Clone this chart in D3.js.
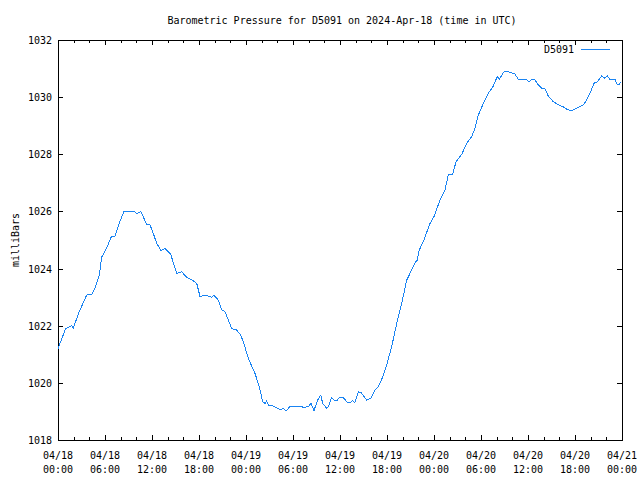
<!DOCTYPE html>
<html>
<head>
<meta charset="utf-8">
<script src="https://cdn.jsdelivr.net/npm/d3@7"></script>
<style>
  html, body { margin: 0; padding: 0; background: #fff; }
  svg { display: block; }
  text { font-family: "DejaVu Sans Mono", "Liberation Mono", monospace; fill: #000; }
</style>
</head>
<body>
<svg id="chart" width="640" height="480"></svg>
<script>
const titleText = "Barometric Pressure for D5091 on 2024-Apr-18 (time in UTC)";
const yLabel = "milliBars";
const seriesName = "D5091";
const startTime = Date.UTC(2024, 3, 18, 0, 0);
// hours since 2024-04-18 00:00 UTC
const hours = [0, 0.98, 1.75, 1.95, 2.72, 3.66, 4.30, 4.72, 5.27, 5.58, 6.29, 6.77, 7.28, 7.81, 8.43, 9.70, 10.12, 10.56,
  11.32, 11.74, 12.17, 12.60, 13.15, 13.66, 14.39, 15.15, 15.79, 16.43, 17.27, 17.71, 18.13, 18.77, 19.62, 19.91,
  20.46, 20.90, 21.32, 22.17, 22.81, 23.32, 23.66, 24.29, 25.15, 25.70, 26.13, 26.43, 26.64, 26.85, 27.49, 28.34,
  28.76, 29.11, 29.62, 30.47, 31.11, 31.31, 31.95, 32.30, 32.68, 33.10, 33.54, 33.79, 34.30, 34.51, 34.94, 35.23,
  35.66, 35.91, 36.42, 36.93, 37.28, 37.62, 37.91, 38.34, 38.68, 39.41, 39.92, 40.47, 40.89, 41.45, 41.96, 42.60,
  43.24, 43.88, 44.52, 45.15, 45.57, 45.87, 46.12, 46.63, 47.49, 48.00, 48.77, 49.40, 49.83, 50.39, 50.81, 51.54,
  52.17, 52.81, 53.23, 53.66, 54.29, 54.93, 55.57, 56.08, 56.34, 56.94, 57.49, 58.34, 58.76, 59.83, 60.13, 60.47,
  60.89, 61.32, 61.75, 62.17, 62.59, 63.23, 63.87, 64.43, 64.94, 65.49, 66.22, 67.06, 67.49, 68.00, 68.46, 68.77,
  69.41, 69.83, 70.12, 70.47, 71.11, 71.40, 71.66, 71.83];
const pressure = [1021.2, 1021.9, 1022.0, 1021.92, 1022.5, 1023.07, 1023.1, 1023.3, 1023.77, 1024.4, 1024.77, 1025.1, 1025.14, 1025.58, 1026.0, 1026.0, 1025.92, 1026.0,
  1025.55, 1025.53, 1025.23, 1024.88, 1024.63, 1024.71, 1024.5, 1023.83, 1023.89, 1023.69, 1023.57, 1023.48, 1023.02, 1023.07, 1023.0, 1023.07,
  1022.9, 1022.55, 1022.49, 1021.9, 1021.85, 1021.67, 1021.44, 1020.86, 1020.33, 1019.86, 1019.34, 1019.28, 1019.37, 1019.22, 1019.19, 1019.07,
  1019.1, 1019.02, 1019.17, 1019.19, 1019.17, 1019.14, 1019.17, 1019.28, 1019.03, 1019.37, 1019.57, 1019.28, 1019.11, 1019.17, 1019.49, 1019.4,
  1019.4, 1019.49, 1019.49, 1019.31, 1019.31, 1019.38, 1019.31, 1019.69, 1019.66, 1019.4, 1019.46, 1019.75, 1019.87, 1020.2, 1020.63, 1021.27,
  1022.08, 1022.78, 1023.6, 1023.95, 1024.2, 1024.3, 1024.65, 1024.94, 1025.58, 1025.82, 1026.4, 1026.75, 1027.28, 1027.3, 1027.74, 1028.0,
  1028.38, 1028.62, 1028.91, 1029.37, 1029.78, 1030.13, 1030.39, 1030.72, 1030.63, 1030.89, 1030.89, 1030.81, 1030.62, 1030.62, 1030.54, 1030.62,
  1030.6, 1030.43, 1030.31, 1030.29, 1030.04, 1029.84, 1029.73, 1029.67, 1029.58, 1029.52, 1029.61, 1029.73, 1029.9, 1030.19, 1030.5, 1030.51,
  1030.74, 1030.66, 1030.74, 1030.62, 1030.62, 1030.43, 1030.43, 1030.54];
const yTicks = [1018, 1020, 1022, 1024, 1026, 1028, 1030, 1032];
const xTickLabels = [
  ["04/18", "00:00"], ["04/18", "06:00"], ["04/18", "12:00"], ["04/18", "18:00"],
  ["04/19", "00:00"], ["04/19", "06:00"], ["04/19", "12:00"], ["04/19", "18:00"],
  ["04/20", "00:00"], ["04/20", "06:00"], ["04/20", "12:00"], ["04/20", "18:00"],
  ["04/21", "00:00"]];

const HOUR = 3600 * 1000;
const data = hours.map((h, i) => ({ t: new Date(startTime + h * HOUR), v: pressure[i] }));
const majorTicks = xTickLabels.map((_, i) => new Date(startTime + i * 6 * HOUR));
const minorTicks = d3.range(0, 73, 2).filter(h => h % 6 !== 0).map(h => new Date(startTime + h * HOUR));

const L = 58, R = 622, T = 40, B = 440;
const svg = d3.select("#chart");
const x = d3.scaleUtc().domain([new Date(startTime), new Date(startTime + 72 * HOUR)]).range([L, R]);
const y = d3.scaleLinear().domain([1018, 1032]).range([B, T]);

const g = svg.append("g").attr("shape-rendering", "crispEdges");

// title
svg.append("text").attr("x", 342).attr("y", 23.5).attr("text-anchor", "middle")
  .style("font-size", "10px").text(titleText);

// y label
svg.append("text").attr("transform", "translate(19,240) rotate(-90)").attr("text-anchor", "middle")
  .style("font-size", "10px").text(yLabel);

// ticks (inward on all four sides)
function tickLines(values, len, cls) {
  g.selectAll("line." + cls + "b").data(values).join("line")
    .attr("x1", d => Math.round(x(d)) + 0.5).attr("x2", d => Math.round(x(d)) + 0.5)
    .attr("y1", B).attr("y2", B - len).attr("stroke", "#000");
  g.selectAll("line." + cls + "t").data(values).join("line")
    .attr("x1", d => Math.round(x(d)) + 0.5).attr("x2", d => Math.round(x(d)) + 0.5)
    .attr("y1", T).attr("y2", T + len).attr("stroke", "#000");
}
tickLines(majorTicks, 5, "maj");
tickLines(minorTicks, 3, "min");

const yAxisL = d3.axisRight(y).tickValues(yTicks).tickSize(5).tickFormat("");
const yAxisR = d3.axisLeft(y).tickValues(yTicks).tickSize(5).tickFormat("");
g.append("g").attr("transform", `translate(${L},0)`).call(yAxisL).call(s => s.select(".domain").remove());
g.append("g").attr("transform", `translate(${R},0)`).call(yAxisR).call(s => s.select(".domain").remove());

// y tick labels
svg.selectAll("text.ylab").data(yTicks).join("text").attr("class", "ylab")
  .attr("x", 52).attr("y", d => y(d) + 4).attr("text-anchor", "end")
  .style("font-size", "10px").text(d => d);

// x tick labels
const xl = svg.selectAll("g.xlab").data(majorTicks).join("g").attr("class", "xlab")
  .attr("transform", d => `translate(${x(d)},0)`);
xl.append("text").attr("y", 459).attr("text-anchor", "middle").style("font-size", "10px")
  .text((d, i) => xTickLabels[i][0]);
xl.append("text").attr("y", 473).attr("text-anchor", "middle").style("font-size", "10px")
  .text((d, i) => xTickLabels[i][1]);

// frame
g.append("rect").attr("x", L + 0.5).attr("y", T + 0.5).attr("width", R - L).attr("height", B - T)
  .attr("fill", "none").attr("stroke", "#000");

// data line
const lineColor = "#1a84f2";
svg.append("path").datum(data)
  .attr("d", d3.line().x(d => x(d.t)).y(d => y(d.v)))
  .attr("fill", "none").attr("stroke", lineColor).attr("stroke-width", 1)
  .attr("shape-rendering", "crispEdges");

// legend
svg.append("text").attr("x", 574).attr("y", 53).attr("text-anchor", "end")
  .style("font-size", "10px").text(seriesName);
g.append("line").attr("x1", 581).attr("x2", 610).attr("y1", 49.5).attr("y2", 49.5)
  .attr("stroke", lineColor);
</script>
</body>
</html>
